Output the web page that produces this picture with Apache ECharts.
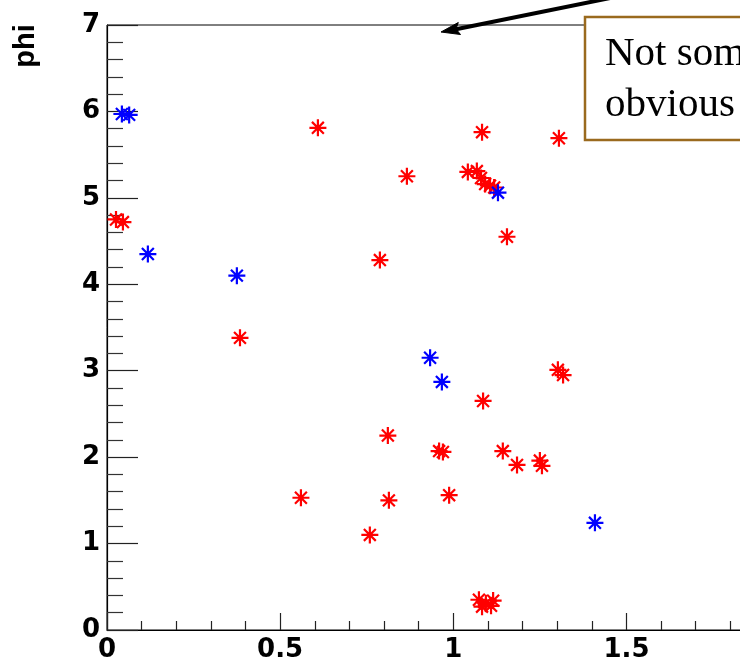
<!DOCTYPE html>
<html>
<head>
<meta charset="utf-8">
<script src="https://cdn.jsdelivr.net/npm/echarts@6/dist/echarts.min.js"></script>
<style>html,body{margin:0;padding:0;background:#fff;}#c{width:740px;height:660px;}</style>
</head>
<body>
<div id="c"></div>
<script>
// Data
var xTicks = [0, 0.5, 1, 1.5, 2];
var yTicks = [0, 1, 2, 3, 4, 5, 6, 7];
var yAxisName = 'phi';
var noteLines = ['Not something', 'obvious'];

var blueX = [0.043, 0.064, 0.118, 0.375, 0.933, 0.967, 1.129, 1.409];
var blueY = [5.97, 5.96, 4.35, 4.10, 3.15, 2.87, 5.06, 1.24];

var redX = [0.026, 0.046, 0.609, 0.866, 0.788, 0.384, 1.083, 1.305,
            1.042, 1.068, 1.080, 1.092, 1.106, 1.118,
            1.155, 1.302, 1.317, 1.086, 0.811, 0.959, 0.970, 1.143,
            1.184, 1.250, 1.256, 0.560, 0.814, 0.988, 0.759,
            1.074, 1.094, 1.115, 1.083, 1.109];
var redY = [4.75, 4.72, 5.81, 5.25, 4.28, 3.38, 5.76, 5.69,
            5.30, 5.31, 5.23, 5.16, 5.14, 5.12,
            4.55, 3.01, 2.95, 2.65, 2.25, 2.07, 2.06, 2.07,
            1.91, 1.96, 1.90, 1.53, 1.50, 1.56, 1.10,
            0.35, 0.31, 0.34, 0.27, 0.28];

function zip(xs, ys) { return xs.map(function (x, i) { return [x, ys[i]]; }); }

var star = 'path://M10,0L10,20M0,10L20,10M3,3L17,17M3,17L17,3';
var labelFont = { fontFamily: 'DejaVu Sans, Liberation Sans, sans-serif', fontWeight: 'bold', fontSize: 26, color: '#000' };

var chart = echarts.init(document.getElementById('c'), null, { renderer: 'canvas' });
chart.setOption({
  animation: false,
  backgroundColor: '#fff',
  grid: {
    left: 107, top: 25, width: 692.6, height: 605,
    show: true, borderColor: '#000', borderWidth: 1, backgroundColor: 'transparent',
    containLabel: false, outerBoundsMode: 'none'
  },
  xAxis: {
    type: 'value', min: xTicks[0], max: xTicks[xTicks.length - 1], interval: 0.5,
    axisLine: { show: true, onZero: false, lineStyle: { color: '#000', width: 1.2 } },
    axisTick: { show: true, inside: true, length: 17, lineStyle: { color: '#222', width: 1.2 } },
    minorTick: { show: true, splitNumber: 5, length: 9, lineStyle: { color: '#222', width: 1.2 } },
    splitLine: { show: false },
    axisLabel: Object.assign({ margin: 7, showMaxLabel: false, showMinLabel: true }, labelFont)
  },
  yAxis: {
    type: 'value', min: yTicks[0], max: yTicks[yTicks.length - 1], interval: 1,
    axisLine: { show: true, onZero: false, lineStyle: { color: '#000', width: 1.2 } },
    axisTick: { show: true, inside: true, length: 31, lineStyle: { color: '#222', width: 1.2 } },
    minorTick: { show: true, splitNumber: 5, length: 16, lineStyle: { color: '#333', width: 1.2 } },
    splitLine: { show: false },
    axisLabel: Object.assign({ margin: 7, showMaxLabel: true, showMinLabel: true }, labelFont)
  },
  series: [
    {
      type: 'scatter', name: 'red', data: zip(redX, redY), symbol: star, symbolSize: 17,
      itemStyle: { color: '#ff0000', borderColor: '#ff0000', borderWidth: 2.2, opacity: 1 },
      emphasis: { disabled: true }, z: 2
    },
    {
      type: 'scatter', name: 'blue', data: zip(blueX, blueY), symbol: star, symbolSize: 17,
      itemStyle: { color: '#0000ff', borderColor: '#0000ff', borderWidth: 2.2, opacity: 1 },
      emphasis: { disabled: true }, z: 3
    }
  ],
  graphic: [
    {
      type: 'text', x: 26, y: 46, rotation: Math.PI / 2,
      style: { text: yAxisName, fontFamily: 'Liberation Sans, Arial, sans-serif', fontWeight: 'bold', fontSize: 29, fill: '#000', align: 'center', verticalAlign: 'middle' }
    },
    {
      type: 'line', z: 10,
      shape: { x1: 630, y1: -6, x2: 456, y2: 29.2 },
      style: { stroke: '#000', lineWidth: 4 }
    },
    {
      type: 'polygon', z: 10,
      shape: { points: [[441, 32], [460.5, 34.5], [456, 29], [458.3, 22.5]] },
      style: { fill: '#000', stroke: '#000', lineWidth: 1 }
    },
    {
      type: 'rect', z: 11,
      shape: { x: 585, y: 17, width: 220, height: 123 },
      style: { fill: '#fff', stroke: '#9a6a1e', lineWidth: 2.5 }
    },
    {
      type: 'text', z: 12, x: 605, y: 54,
      style: { text: noteLines[0], fontFamily: 'Liberation Serif, Times New Roman, serif', fontSize: 41, fill: '#000', align: 'left', verticalAlign: 'middle' }
    },
    {
      type: 'text', z: 12, x: 605, y: 105,
      style: { text: noteLines[1], fontFamily: 'Liberation Serif, Times New Roman, serif', fontSize: 41, fill: '#000', align: 'left', verticalAlign: 'middle' }
    }
  ]
});
</script>
</body>
</html>
